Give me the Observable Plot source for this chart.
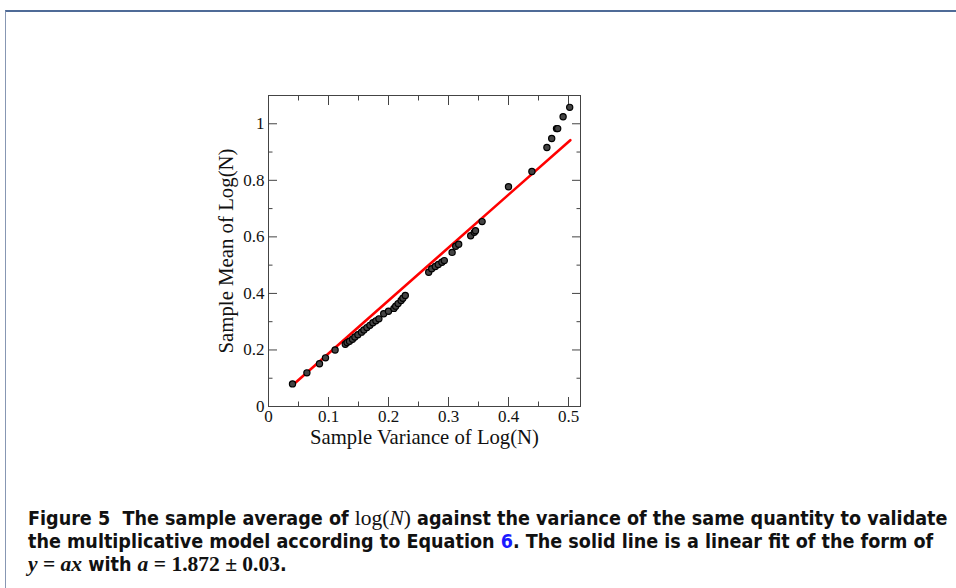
<!DOCTYPE html>
<html><head><meta charset="utf-8">
<script src="https://cdn.jsdelivr.net/npm/d3@7"></script>
<script src="https://cdn.jsdelivr.net/npm/@observablehq/plot@0.6"></script>
<style>
html,body{margin:0;padding:0;background:#fff;width:956px;height:588px;overflow:hidden;}
#frame{position:absolute;left:5px;top:10px;width:951px;height:578px;border-top:2px solid #4f6b97;border-left:1px solid #8797b3;box-sizing:border-box;}
#chart{position:absolute;left:0;top:0;}
#caption{position:absolute;left:28px;top:507px;font-family:"DejaVu Sans Condensed","DejaVu Sans",sans-serif;font-weight:bold;font-size:18px;line-height:22.5px;color:#111;white-space:nowrap;}
.m{font-family:"Liberation Serif",serif;font-weight:normal;font-size:1.1em;}
.mb{font-family:"Liberation Serif",serif;font-weight:bold;font-size:1.1em;}
.i{font-style:italic;}
.lnk{color:#1a1aff;}
#chart svg g[aria-label^="x-axis"] text, #chart svg g[aria-label^="y-axis"] text{font-size:17px !important;font-family:"Liberation Serif",serif !important;font-variant:normal !important;}
</style>
</head><body>
<div id="frame"></div>
<div id="chart"></div>
<div id="caption"><span id="l1">Figure 5&nbsp; The sample average of <span class="m">log(<span class="i">N</span>)</span> against the variance of the same quantity to validate</span><br>the multiplicative model according to Equation <span class="lnk">6</span>. The solid line is a linear fit of the form of<br><span class="mb"><span class="i">y</span> = <span class="i">ax</span></span> with <span class="mb"><span class="i">a</span> = 1.872 ± 0.03</span>.</div>
<script>
const varianceX = [0.040,0.064,0.085,0.095,0.111,0.128,0.131,0.135,0.140,0.144,0.149,0.155,0.159,0.164,0.169,0.174,0.179,0.184,0.192,0.200,0.209,0.212,0.216,0.221,0.224,0.228,0.267,0.272,0.278,0.283,0.289,0.293,0.306,0.312,0.317,0.337,0.343,0.345,0.356,0.400,0.439,0.464,0.472,0.480,0.482,0.491,0.502];
const meanY = [0.080,0.119,0.151,0.172,0.200,0.220,0.226,0.231,0.238,0.246,0.254,0.263,0.271,0.279,0.287,0.296,0.303,0.310,0.328,0.337,0.347,0.355,0.364,0.375,0.383,0.393,0.475,0.487,0.495,0.502,0.510,0.516,0.545,0.567,0.574,0.604,0.616,0.622,0.654,0.777,0.831,0.916,0.948,0.983,0.983,1.025,1.058];
const fitX = [0.041, 0.503];
const fitY = [0.077, 0.942];
const xMajor = [0,0.1,0.2,0.3,0.4,0.5];
const xTickLabels = ["0","0.1","0.2","0.3","0.4","0.5"];
const xMinor = [0.05,0.15,0.25,0.35,0.45];
const yMajor = [0,0.2,0.4,0.6,0.8,1.0];
const yTickLabels = ["0","0.2","0.4","0.6","0.8","1"];
const yMinor = [0.1,0.3,0.5,0.7,0.9];
const xTitle = "Sample Variance of Log(N)";
const yTitle = "Sample Mean of Log(N)";

const pts = varianceX.map((x,i)=>({x, y: meanY[i]}));
const fit = fitX.map((x,i)=>({x, y: fitY[i]}));
const tc = "#444";
const tk = (anchor, data, size) => (anchor==="top"||anchor==="bottom")
  ? Plot.axisX(data, {anchor, tickSize:size, fill:"none", label:null, stroke:tc})
  : Plot.axisY(data, {anchor, tickSize:size, fill:"none", label:null, stroke:tc});
const chart = Plot.plot({
  width:956, height:460, marginLeft:268, marginTop:95, marginRight:376, marginBottom:54,
  style:{fontFamily:"'Liberation Serif', serif", fontSize:"16px", color:"#111", background:"transparent"},
  x:{domain:[0,0.52]}, y:{domain:[0,1.1]},
  marks:[
    Plot.axisX(xMajor, {anchor:"bottom", tickSize:0, tickPadding:3, tickFormat:d=>xTickLabels[xMajor.indexOf(d)], label:null, fontSize:17, fill:"#111"}),
    Plot.axisY(yMajor, {anchor:"left", tickSize:0, tickPadding:4, tickFormat:d=>yTickLabels[yMajor.indexOf(d)], label:null, fontSize:17, fill:"#111"}),
    tk("bottom", xMajor, -9), tk("bottom", xMinor, -4.5),
    tk("top", xMajor, -9), tk("top", xMinor, -4.5),
    tk("left", yMajor, -9), tk("left", yMinor, -4.5),
    tk("right", yMajor, -9), tk("right", yMinor, -4.5),
    Plot.frame({stroke:tc, strokeWidth:1}),
    Plot.line(fit, {x:"x", y:"y", stroke:"#ff0000", strokeWidth:2.6}),
    Plot.dot(pts, {x:"x", y:"y", r:3.1, fill:"#444", stroke:"#000", strokeWidth:1.2}),
    Plot.text([xTitle], {text:d=>d, frameAnchor:"bottom", textAnchor:"middle", dy:30.5, lineAnchor:"middle", fontSize:20.7, fill:"#111"}),
    Plot.text([yTitle], {text:d=>d, frameAnchor:"left", textAnchor:"middle", dx:-42, rotate:-90, lineAnchor:"middle", fontSize:20.8, fill:"#111"})
  ]
});
document.getElementById("chart").appendChild(chart);
const cap = document.getElementById("caption");
const w = document.getElementById("l1").getBoundingClientRect().width;
cap.style.fontSize = (18 * 920 / w).toFixed(2) + "px";
</script>
</body></html>
